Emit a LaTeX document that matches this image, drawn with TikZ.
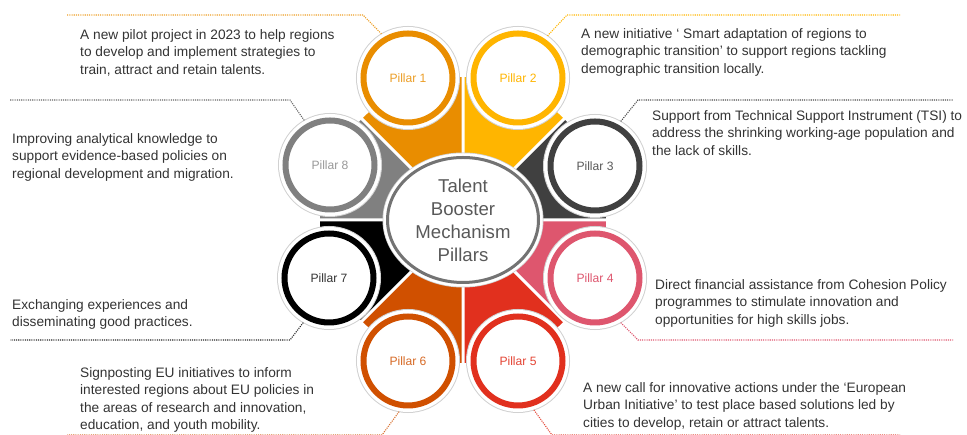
\documentclass[tikz,border=0pt]{standalone}
\usepackage{fontspec}
\setmainfont{Liberation Sans}
\usetikzlibrary{positioning, calc, shapes.geometric}

\definecolor{pOne}{RGB}{233,141,0}
\definecolor{pTwo}{RGB}{255,181,0}
\definecolor{pThree}{RGB}{64,64,64}
\definecolor{pFour}{RGB}{222,86,110}
\definecolor{pFive}{RGB}{225,48,30}
\definecolor{pSix}{RGB}{208,80,0}
\definecolor{pSeven}{RGB}{0,0,0}
\definecolor{pEight}{RGB}{128,128,128}
\definecolor{bodytext}{RGB}{51,51,51}

\tikzset{
    pillar/.style={circle, fill=white, draw=#1, line width=6pt, minimum size=89pt, inner sep=0pt, outer sep=7pt,
        preaction={draw=black!18, line width=15pt}, preaction={draw=white, line width=13pt},
        font=\fontsize{12.1}{14}\selectfont},
    blurb/.style={anchor=north west, inner sep=0pt, align=left, text=bodytext, font=\fontsize{13.7}{17.5}\selectfont},
    lead/.style={draw=#1, line width=1.1pt, dash pattern=on 1.1pt off 1.1pt},
}

\begin{document}
\begin{tikzpicture}[x=1pt, y=1pt]
            \useasboundingbox (0,0) rectangle (967,435);
            \coordinate (o) at (463,215);

            %扇形を書く
            \fill[pOne] (o) -- ++(90:143) arc[start angle=90, end angle=135, radius=143] -- cycle;
            \fill[pTwo] (o) -- ++(45:143) arc[start angle=45, end angle=90, radius=143] -- cycle;
            \fill[pThree] (o) -- ++(0:143) arc[start angle=0, end angle=45, radius=143] -- cycle;
            \fill[pFour] (o) -- ++(-45:143) arc[start angle=-45, end angle=0, radius=143] -- cycle;
            \fill[pFive] (o) -- ++(-90:143) arc[start angle=-90, end angle=-45, radius=143] -- cycle;
            \fill[pSix] (o) -- ++(-135:143) arc[start angle=-135, end angle=-90, radius=143] -- cycle;
            \fill[pSeven] (o) -- ++(180:143) arc[start angle=180, end angle=225, radius=143] -- cycle;
            \fill[pEight] (o) -- ++(135:143) arc[start angle=135, end angle=180, radius=143] -- cycle;
            \draw[white, line width=3pt] (o) -- ++(0:150) (o) -- ++(45:150) (o) -- ++(90:150) (o) -- ++(135:150)
                (o) -- ++(180:150) (o) -- ++(225:150) (o) -- ++(270:150) (o) -- ++(315:150);

            %円を書く
            \node[pillar=pOne, text=pOne!85!white] (p1) at (408,357) {Pillar 1};
            \node[pillar=pTwo, text=pTwo] (p2) at (518,357) {Pillar 2};
            \node[pillar=pThree, text=black!65] (p3) at (595,269) {Pillar 3};
            \node[pillar=pFour, text=pFour] (p4) at (595,157) {Pillar 4};
            \node[pillar=pFive, text=pFive!90!white] (p5) at (518,74) {Pillar 5};
            \node[pillar=pSix, text=pSix!85!white] (p6) at (408,74) {Pillar 6};
            \node[pillar=pSeven, text=black!80] (p7) at (329,157) {Pillar 7};
            \node[pillar=pEight, text=black!40] (p8) at (330,270) {Pillar 8};

            \node[ellipse, fill=white, draw=black!55, line width=3pt, minimum width=151pt, minimum height=125pt, inner sep=0pt,
                preaction={draw=black!18, line width=10pt}, preaction={draw=white, line width=8.5pt},
                align=center, text=black!65, font=\fontsize{18.6}{23}\selectfont] (hub) at (o) {Talent\\Booster\\Mechanism\\Pillars};

            %説明文を書く
            \node[blurb] (t1) at (80,406) {A new pilot project in 2023 to help regions\\to develop and implement strategies to\\train, attract and retain talents.};
            \node[blurb] (t2) at (581,407) {A new initiative ‘ Smart adaptation of regions to\\demographic transition’ to support regions tackling\\demographic transition locally.};
            \node[blurb] (t3) at (652,325) {Support from Technical Support Instrument (TSI) to\\address the shrinking working-age population and\\the lack of skills.};
            \node[blurb] (t4) at (655,156) {Direct financial assistance from Cohesion Policy\\programmes to stimulate innovation and\\opportunities for high skills jobs.};
            \node[blurb] (t5) at (583,53) {A new call for innovative actions under the ‘European\\Urban Initiative’ to test place based solutions led by\\cities to develop, retain or attract talents.};
            \node[blurb] (t6) at (80,68) {Signposting EU initiatives to inform\\interested regions about EU policies in\\the areas of research and innovation,\\education, and youth mobility.};
            \node[blurb] (t7) at (12,136) {Exchanging experiences and\\disseminating good practices.};
            \node[blurb] (t8) at (12,302) {Improving analytical knowledge to\\support evidence-based policies on\\regional development and migration.};

            %点線を書く
            \coordinate (b1) at (363,420); \coordinate (e1) at (67,420);
            \coordinate (b2) at (567,420); \coordinate (e2) at (900,420);
            \coordinate (b3) at (638,335); \coordinate (e3) at (953,335);
            \coordinate (b4) at (638,95);  \coordinate (e4) at (953,95);
            \coordinate (b5) at (552,0);   \coordinate (e5) at (900,0);
            \coordinate (b6) at (382,0);   \coordinate (e6) at (67,0);
            \coordinate (b7) at (290,95);  \coordinate (e7) at (10,95);
            \coordinate (b8) at (290,335); \coordinate (e8) at (10,335);

            \draw[lead=pOne!85!white] (p1.121) -- (b1) -- (e1);
            \draw[lead=pTwo] (p2.55) -- (b2) -- (e2);
            \draw[lead=black!70] (p3.60) -- (b3) -- (e3);
            \draw[lead=pFour] (p4.-60) -- (b4) -- (e4);
            \draw[lead=pFive!85!white] (p5.-72) -- (b5) -- (e5);
            \draw[lead=pSix!80!white] (p6.-100) -- (b6) -- (e6);
            \draw[lead=black!85] (p7.-120) -- (b7) -- (e7);
            \draw[lead=black!60] (p8.120) -- (b8) -- (e8);
        \end{tikzpicture}
\end{document}
